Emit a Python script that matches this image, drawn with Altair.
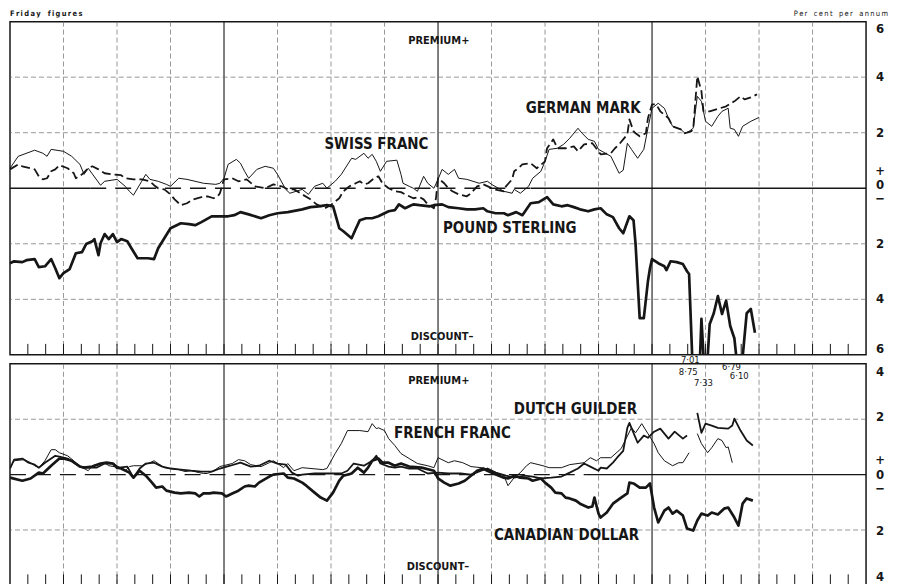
import altair as alt
import pandas as pd

# ---------------- data (week number from start of 1965, Friday figures; % per annum) ----------------
swiss_week = [0, 2, 6, 8, 9, 10, 13, 15, 17, 18, 19, 22, 23, 26, 28, 29, 30, 32, 33, 34, 36, 38, 39, 41, 43, 47,
              50, 51, 52, 53, 55, 56, 57, 58, 60, 62, 64, 65, 67, 68, 71, 72.5, 74, 76, 77, 79, 80.5, 83, 84, 86,
              87, 88, 89, 90, 91.5, 94, 95, 95.5, 97, 98, 99, 100.5, 101.5, 103, 104, 105, 106.5, 108, 109, 111,
              114, 116, 117, 120, 122, 122.5, 124, 126, 127, 129, 130, 131, 133, 134.5, 136, 138, 139, 140.5, 142,
              143, 146, 148, 149, 150, 151, 152.5, 154, 155, 156, 157.5, 159, 160, 161, 163, 164, 165, 166, 167,
              168, 169, 170.5, 172, 173, 174.5, 175, 176, 177, 178, 180, 182]
swiss_val = [0.72, 1.15, 1.37, 1.26, 1.15, 1.40, 1.33, 1.15, 0.86, 0.50, 0.72, 0.11, 0.25, 0.32, 0.07, -0.11, -0.25,
             0.25, 0.50, 0.32, 0.25, 0.14, 0.07, 0.36, 0.32, 0.18, 0.14, 0.18, 0.36, 0.86, 1.04, 0.90, 0.61, 0.36,
             0.68, 0.79, 0.72, 0.50, -0.04, -0.18, -0.04, -0.22, 0.07, 0.18, 0.00, 0.25, 0.50, 1.08, 1.04, 1.26,
             1.08, 1.22, 0.97, 0.61, 0.97, 1.01, 0.50, 0.18, 0.07, 0.00, -0.11, 0.43, 0.18, 0.00, 0.32, 0.68, 0.50,
             0.68, 0.36, 0.32, 0.18, 0.25, 0.14, -0.11, -0.18, -0.04, -0.18, 0.07, 0.36, 0.61, 0.97, 1.40, 1.44,
             1.58, 1.80, 2.16, 1.98, 1.76, 1.69, 1.40, 1.15, 0.54, 0.65, 1.62, 1.40, 1.08, 1.40, 2.16, 2.88, 3.06,
             2.88, 2.52, 2.23, 2.12, 1.98, 2.05, 2.16, 3.31, 3.13, 2.41, 2.23, 2.59, 2.77, 2.88, 2.16, 2.12, 1.87,
             2.23, 2.41, 2.55]

mark_week = [0, 2, 3, 5, 6, 7, 8, 9, 10, 11, 12, 14, 15.5, 16, 17.5, 19, 20, 21.5, 23, 25, 27, 28, 30, 32, 34, 35,
             36, 37.5, 39, 40, 41.5, 43, 44.5, 46.5, 48, 49.5, 50.5, 51, 52, 54, 55.5, 57.5, 59.5, 62, 64, 66, 67.5,
             69, 71, 73, 74.5, 76.5, 78, 80, 81, 82.5, 84, 85, 86, 87, 88.5, 89.5, 90.5, 92, 93.5, 95, 96, 98, 99.5,
             100.5, 101.5, 103, 103.5, 104, 105.5, 106.5, 107.5, 109, 111, 112, 113.5, 115, 116.5, 118, 120, 120.5,
             122, 122.5, 123.5, 124.5, 126.5, 128, 130, 130.5, 132, 133, 135, 137, 138, 139.5, 141.5, 143, 143.5,
             146, 147, 148, 149, 150, 150.5, 151.5, 152, 153, 154.5, 155, 156, 157, 158, 160, 161, 163, 164, 165.5,
             166, 167, 168, 168.5, 170, 172.5, 174, 176, 177.5, 178.5, 180, 181.5]
mark_val = [0.68, 0.86, 0.79, 0.72, 0.68, 0.43, 0.32, 0.36, 0.61, 0.68, 0.83, 0.72, 0.54, 0.36, 0.50, 0.72, 0.79,
            0.68, 0.54, 0.50, 0.47, 0.36, 0.32, 0.32, 0.25, 0.11, 0.00, -0.04, -0.22, -0.40, -0.61, -0.54, -0.40,
            -0.32, -0.29, -0.36, -0.29, -0.18, 0.32, 0.36, 0.25, 0.32, 0.07, 0.00, 0.14, 0.07, -0.04, -0.04, -0.22,
            -0.40, -0.58, -0.72, -0.60, -0.36, -0.11, 0.07, 0.18, 0.25, 0.14, 0.18, 0.36, 0.43, 0.18, 0.00, -0.11,
            -0.14, -0.22, -0.36, -0.32, -0.40, -0.58, -0.72, -0.36, 0.36, 0.18, 0.00, -0.11, -0.22, -0.29, -0.18,
            0.07, 0.14, 0.04, -0.05, -0.11, 0.07, 0.32, 0.61, 0.72, 0.86, 0.90, 0.72, 0.97, 1.44, 1.76, 1.44, 1.44,
            1.51, 1.33, 1.58, 1.62, 1.33, 1.22, 1.26, 1.44, 1.58, 1.76, 1.94, 2.48, 2.05, 1.98, 1.87, 1.98, 2.52,
            3.02, 3.02, 2.77, 2.52, 2.23, 2.12, 1.98, 2.05, 2.12, 4.03, 3.49, 2.77, 2.77, 2.88, 2.95, 3.13, 3.31,
            3.20, 3.27, 3.38]

sterling_week = [0, 1, 3, 4, 6, 7, 8.5, 10, 11, 12, 13, 14.5, 16, 17.5, 18.5, 20, 20.5, 21.5, 22, 23, 24, 25, 26,
                 27, 28.5, 29.5, 31, 32, 33.5, 35, 36, 37.5, 39, 41.5, 43.5, 45, 46.5, 49, 50.5, 53, 54.5, 56, 58,
                 61, 63, 65, 67.5, 71, 73, 75, 77, 78.5, 80, 81, 83, 84, 85, 86.5, 88, 89.5, 92, 93.5, 94.5, 96, 97,
                 98, 99.5, 102, 103, 105, 106.5, 109, 111, 113, 115, 116, 118, 120, 121, 123, 124.5, 126.5, 128.5,
                 130.5, 132, 134, 135.5, 137, 138.5, 140.5, 142, 143.5, 145, 146.5, 148, 149, 150.5, 151.5, 152, 153,
                 154, 155, 155.5, 156, 157.5, 159, 159.5, 160.5, 162, 163.5, 164.5, 165, 166, 167, 168, 169, 170,
                 171, 172, 173, 174, 175, 176, 177, 178, 179, 180, 181]
sterling_val = [-2.70, -2.63, -2.66, -2.59, -2.55, -2.84, -2.81, -2.55, -2.88, -3.24, -3.06, -2.91, -2.34, -2.30,
                -2.01, -1.91, -1.83, -2.41, -1.98, -1.65, -1.83, -1.65, -1.94, -1.83, -1.91, -2.16, -2.52, -2.52,
                -2.52, -2.55, -2.16, -1.80, -1.44, -1.26, -1.29, -1.33, -1.22, -1.01, -1.01, -1.01, -0.97, -0.86,
                -0.94, -1.08, -0.97, -0.90, -0.86, -0.76, -0.68, -0.65, -0.61, -0.65, -1.44, -1.55, -1.80, -1.47,
                -1.15, -1.08, -1.08, -1.01, -0.83, -0.79, -0.58, -0.72, -0.65, -0.58, -0.61, -0.65, -0.61, -0.58,
                -0.68, -0.72, -0.76, -0.76, -0.72, -0.83, -0.90, -0.90, -0.97, -0.86, -0.97, -0.54, -0.50, -0.32,
                -0.58, -0.65, -0.61, -0.68, -0.76, -0.83, -0.76, -0.72, -0.94, -1.04, -1.44, -1.62, -1.01, -1.15,
                -2.01, -4.68, -4.68, -3.35, -2.88, -2.55, -2.70, -2.81, -2.95, -2.63, -2.66, -2.73, -2.99, -3.09,
                -7.01, -8.75, -4.70, -7.33, -4.90, -4.50, -3.88, -4.53, -4.05, -4.96, -5.40, -6.79, -6.10, -4.50,
                -4.35, -5.20]

french_week = [0, 1, 3.5, 5, 6, 7, 8.5, 10, 11, 12, 14, 15.5, 17, 18, 19, 20, 22, 23, 24, 27, 28, 29, 30, 32, 34,
               35, 36, 37.5, 39, 41, 42.5, 44, 46, 47, 48, 49.5, 51, 54, 55.5, 57, 58.5, 61, 63, 64, 66.5, 67.5, 69,
               71, 76, 77, 79, 80.5, 82, 85, 87, 88, 89, 89.5, 91, 92, 93.5, 95, 97, 99, 101.5, 103, 104, 106.5,
               108, 110, 112, 114.5, 117, 120, 121, 122.5, 124, 125.5, 126.5, 129.5, 131, 134, 136, 139.5, 141,
               142.5, 143.5, 146, 148.5, 151, 152, 153.5, 155, 156.5, 157.5, 159, 161, 162.5, 163.5, 165,
               167, 168, 169.5, 170.5, 172, 173, 174, 174.5, 175.5]
french_val = [0.25, 0.50, 0.54, 0.43, 0.32, 0.25, 0.50, 0.90, 0.90, 0.79, 0.68, 0.50, 0.29, 0.22, 0.14, 0.32, 0.40,
              0.43, 0.32, 0.25, 0.14, 0.29, 0.32, 0.32, 0.43, 0.50, 0.40, 0.25, 0.22, 0.18, 0.11, 0.14, 0.07, 0.04,
              0.04, 0.14, 0.29, 0.40, 0.54, 0.50, 0.36, 0.29, 0.43, 0.50, 0.25, 0.40, 0.14, 0.25, 0.18, 0.22, 0.76,
              1.12, 1.59, 1.59, 1.55, 1.84, 1.66, 1.69, 1.59, 1.30, 1.05, 0.76, 0.58, 0.40, 0.32, 0.25, 0.61, 0.43,
              0.50, 0.43, 0.29, 0.25, 0.14, -0.04, -0.40, -0.11, 0.07, 0.32, 0.43, 0.32, 0.25, 0.25, 0.36, 0.43,
              0.61, 0.50, 0.61, 0.61, 0.94, 1.69, 1.51, 1.84, 1.48, 1.12, 0.79, 0.50, 0.32, 0.43, 0.43, 0.79,
              1.48, 1.12, 0.79, 0.97, 1.30, 1.23, 0.97, 1.00, 0.43]

dutch_week = [0, 1, 3, 4.5, 6, 7, 8.5, 11, 12, 14, 15.5, 17, 19, 21, 23, 25, 26.5, 28.5, 30, 31.5, 33, 35, 37, 39,
              41.5, 44, 46.5, 49, 51, 53.5, 56, 58.5, 60.5, 63, 65, 67, 68.5, 70, 71, 74, 77, 80.5, 82, 83.5, 86,
              88, 89, 90, 92, 93.5, 95, 97, 99, 101.5, 104, 106.5, 109.5, 112, 114.5, 116, 118, 120.5, 122.5, 125,
              127, 129, 131.5, 134, 136, 138, 139.5, 141, 143, 143.5, 145, 146.5, 147.5, 149, 150, 150.5, 151.5,
              152.5, 154, 155, 156.5, 158, 160, 161.5, 163.5, 164.5,
              167, 168, 169, 170.5, 172, 174.5, 175.5, 176, 177.5, 179, 180.5]
dutch_val = [0.22, 0.54, 0.58, 0.43, 0.36, 0.25, 0.43, 0.68, 0.65, 0.58, 0.43, 0.29, 0.25, 0.25, 0.40, 0.40, 0.25,
             0.29, -0.11, 0.22, 0.40, 0.43, 0.29, 0.22, 0.18, 0.14, 0.11, 0.11, 0.22, 0.32, 0.43, 0.29, 0.32, 0.50,
             0.40, 0.36, 0.07, -0.04, 0.00, 0.04, 0.04, 0.04, 0.14, 0.40, 0.32, 0.50, 0.68, 0.40, 0.29, 0.25, 0.29,
             0.22, 0.22, 0.04, 0.07, 0.04, 0.04, 0.00, 0.14, 0.22, 0.07, -0.04, -0.11, -0.04, -0.07, -0.14, -0.11,
             -0.07, 0.07, 0.22, 0.40, 0.29, 0.14, 0.25, 0.22, 0.43, 0.61, 0.86, 1.69, 1.87, 1.51, 1.15, 1.41, 1.33,
             1.55, 1.66, 1.30, 1.55, 1.30, 1.41,
             2.23, 1.51, 1.84, 1.77, 1.69, 1.66, 1.77, 2.02, 1.59, 1.23, 1.05]

canada_week = [0, 3, 5, 7, 8, 10, 12, 13, 15, 17, 18, 20, 22, 23.5, 25, 26, 27, 29, 30, 31.5, 33, 34.5, 35.5, 37,
               38, 40, 41.5, 43.5, 45, 46, 47, 48.5, 49.5, 51.5, 52.5, 54, 55.5, 57, 58, 59.5, 60.5, 63, 64, 66.5,
               67.5, 69, 71, 72, 74, 75.5, 77, 78.5, 80, 81, 83, 84.5, 86, 87, 88, 89.5, 90.5, 92, 93.5, 95, 97, 100,
               103, 104, 105.5, 107, 109, 110.5, 112, 113.5, 115, 116, 117.5, 120, 121, 122.5, 124, 126, 127, 129,
               130, 131.5, 132.5, 134, 135, 136, 137.5, 138.5, 140.5, 141.5, 142, 143, 143.5, 145, 146.5, 148.5,
               150, 150.5, 151.5, 153, 154.5, 155.5, 156.5, 157.5, 159, 160, 161, 162, 163.5, 164.5, 166, 167, 168,
               169.5, 170.5, 172, 173.5, 174.5, 176, 177, 178, 179, 180.5]
canada_val = [-0.11, -0.22, -0.14, 0.07, 0.04, 0.32, 0.58, 0.58, 0.50, 0.29, 0.25, 0.29, 0.40, 0.43, 0.40, 0.25,
              0.22, 0.07, -0.11, 0.14, -0.04, -0.29, -0.47, -0.43, -0.58, -0.65, -0.68, -0.65, -0.68, -0.79, -0.68,
              -0.68, -0.65, -0.68, -0.79, -0.68, -0.58, -0.43, -0.40, -0.43, -0.29, -0.07, 0.00, 0.04, -0.11, -0.14,
              -0.29, -0.40, -0.65, -0.83, -0.94, -0.65, -0.22, -0.04, 0.04, 0.25, 0.07, 0.25, 0.50, 0.58, 0.43, 0.43,
              0.32, 0.40, 0.29, 0.25, 0.14, -0.14, -0.29, -0.40, -0.32, -0.22, -0.04, 0.14, 0.22, 0.14, 0.04, -0.11,
              -0.14, -0.04, -0.11, -0.14, -0.22, -0.14, -0.29, -0.47, -0.65, -0.68, -0.83, -0.86, -0.94, -1.05,
              -1.19, -1.15, -0.83, -1.41, -1.55, -1.37, -1.05, -0.83, -0.68, -0.29, -0.32, -0.47, -0.47, -0.32,
              -1.19, -1.73, -1.30, -1.19, -1.41, -1.30, -1.48, -1.95, -2.02, -1.66, -1.41, -1.48, -1.37, -1.44,
              -1.23, -1.19, -1.55, -1.84, -1.05, -0.86, -0.94]

# off-scale sterling readings printed under the upper panel
offscale_text = ["7·01", "8·75", "7·33", "6·79", "6·10"]
offscale_week = [165.3, 164.8, 168.5, 175.3, 177.2]

top_grid = [4, 2, -2, -4]
bottom_grid = [2, -2]
top_tick_vals = [6, 4, 2, 0, -2, -4, -6]
top_tick_text = ["6", "4", "2", "0", "2", "4", "6"]
bottom_tick_vals = [4, 2, 0, -2, -4]
bottom_tick_text = ["4", "2", "0", "2", "4"]

# ---------------- styling ----------------
W, H1, H2 = 858, 334, 222
INK = "#161616"
GRID = "#6a6a6a"
FONT = "DejaVu Sans Condensed"
TS = "\u2009"     # thin space between letters of the small captions
WS = "\u00a0\u00a0\u00a0"  # non-collapsing gap between words

xs = alt.Scale(domain=[0, 208], nice=False, zero=False)
ys_top = alt.Scale(domain=[-6, 6], nice=False, zero=False)
ys_bot = alt.Scale(domain=[-4, 4], nice=False, zero=False)


def spaced(s):
    return WS.join(TS.join(word) for word in s.split(" "))


def series_df(weeks, vals, gap_after=None):
    seg = [0 if (gap_after is None or w <= gap_after) else 1 for w in weeks]
    return pd.DataFrame({"week": weeks, "value": vals, "seg": seg})


def line_layer(df, ys, width, dash=None):
    kw = dict(color=INK, strokeWidth=width, clip=True, strokeJoin="round")
    if dash:
        kw["strokeDash"] = dash
    return alt.Chart(df).mark_line(**kw).encode(
        x=alt.X("week:Q", scale=xs, axis=None),
        y=alt.Y("value:Q", scale=ys, axis=None),
        detail="seg:N",
    )


def frame_layers(ys, H, grid_vals, solid_zero, dashed_zero, tick_vals, tick_text, tick_dy, sign_dy):
    layers = []
    quarters = pd.DataFrame({"w": [13 * i for i in range(1, 16) if i % 4 != 0]})
    layers.append(alt.Chart(quarters).mark_rule(color=GRID, strokeWidth=0.7, strokeDash=[5, 3]).encode(
        x=alt.X("w:Q", scale=xs, axis=None)))
    years = pd.DataFrame({"w": [52, 104, 156]})
    layers.append(alt.Chart(years).mark_rule(color=INK, strokeWidth=1.1).encode(
        x=alt.X("w:Q", scale=xs, axis=None)))
    hg = pd.DataFrame({"v": grid_vals})
    layers.append(alt.Chart(hg).mark_rule(color=GRID, strokeWidth=0.7, strokeDash=[5, 3]).encode(
        y=alt.Y("v:Q", scale=ys, axis=None)))
    months = pd.DataFrame({"w": [m * 52 / 12 for m in range(1, 48)]})
    layers.append(alt.Chart(months).mark_rule(color=INK, strokeWidth=1).encode(
        x=alt.X("w:Q", scale=xs, axis=None), y=alt.value(H - 11), y2=alt.value(H)))
    zs = pd.DataFrame({"a": [s[0] for s in solid_zero], "b": [s[1] for s in solid_zero], "z": 0})
    layers.append(alt.Chart(zs).mark_rule(color=INK, strokeWidth=1.3).encode(
        x=alt.X("a:Q", scale=xs, axis=None), x2="b:Q", y=alt.Y("z:Q", scale=ys, axis=None)))
    zd = pd.DataFrame({"a": [s[0] for s in dashed_zero], "b": [s[1] for s in dashed_zero], "z": 0})
    layers.append(alt.Chart(zd).mark_rule(color=INK, strokeWidth=1.3, strokeDash=[16, 9]).encode(
        x=alt.X("a:Q", scale=xs, axis=None), x2="b:Q", y=alt.Y("z:Q", scale=ys, axis=None)))
    # right-hand scale labels, grouped by their small vertical nudge
    vals = tick_vals + [0, 0]
    texts = tick_text + ["+", "−"]
    dys = tick_dy + sign_dy
    for d in sorted(set(dys)):
        sub = pd.DataFrame({"v": [v for v, dd in zip(vals, dys) if dd == d],
                            "lab": [t for t, dd in zip(texts, dys) if dd == d]})
        layers.append(alt.Chart(sub).mark_text(font=FONT, fontWeight="bold", fontSize=13, color=INK,
                                               align="center", baseline="middle", dy=d).encode(
            x=alt.value(W + 14), y=alt.Y("v:Q", scale=ys, axis=None), text="lab:N"))
    return layers


def names_layer(ys, weeks, vals, texts, size, align):
    df = pd.DataFrame({"w": weeks, "v": vals, "t": texts})
    return alt.Chart(df).mark_text(font=FONT, fontWeight="bold", fontSize=size, color=INK,
                                   align=align, baseline="middle").encode(
        x=alt.X("w:Q", scale=xs, axis=None), y=alt.Y("v:Q", scale=ys, axis=None), text="t:N")


# ---------------- top panel ----------------
top_layers = frame_layers(ys_top, H1, top_grid, [(0, 19.5), (126.5, 208)], [(19.5, 126.5)],
                          top_tick_vals, top_tick_text, [7, 0, 0, -3, 0, 0, -6], [-17, 11])
top_layers += [
    line_layer(series_df(swiss_week, swiss_val), ys_top, 1.0),
    line_layer(series_df(mark_week, mark_val), ys_top, 1.8, dash=[9, 4]),
    line_layer(series_df(sterling_week, sterling_val), ys_top, 2.7),
    names_layer(ys_top, [76.4, 125.3, 105.2], [1.58, 2.88, -1.44],
                ["SWISS  FRANC", "GERMAN  MARK", "POUND  STERLING"], 15, "left"),
    names_layer(ys_top, [104.2, 105], [5.32, -5.36], ["PREMIUM+", "DISCOUNT–"], 11, "center"),
    alt.Chart().mark_text(font=FONT, fontSize=7.5, fontWeight="bold", color=INK, align="left",
                          baseline="middle").encode(x=alt.value(0), y=alt.value(-8),
                                                    text=alt.value(spaced("Friday figures"))),
    alt.Chart().mark_text(font=FONT, fontSize=7.5, color=INK, align="right",
                          baseline="middle").encode(x=alt.value(W + 22), y=alt.value(-8),
                                                    text=alt.value(spaced("Per cent per annum"))),
]
top = alt.layer(*top_layers).properties(width=W, height=H1)

# ---------------- bottom panel ----------------
bot_layers = frame_layers(ys_bot, H2, bottom_grid, [(140, 208)], [(0, 140)],
                          bottom_tick_vals, bottom_tick_text, [8, -2, 0, 1, -8], [-15, 14])
off_df = pd.DataFrame({"w": offscale_week, "t": offscale_text, "py": [-4, 8, 19, 3, 12]})
bot_layers += [
    line_layer(series_df(french_week, french_val, gap_after=166), ys_bot, 1.0),
    line_layer(series_df(dutch_week, dutch_val, gap_after=166), ys_bot, 1.8),
    line_layer(series_df(canada_week, canada_val), ys_bot, 2.7),
    names_layer(ys_bot, [122.4, 93.3, 117.6], [2.38, 1.51, -2.20],
                ["DUTCH  GUILDER", "FRENCH  FRANC", "CANADIAN  DOLLAR"], 15, "left"),
    names_layer(ys_bot, [104.2, 104], [3.39, -3.35], ["PREMIUM+", "DISCOUNT–"], 11, "center"),
    alt.Chart(off_df).mark_text(font="DejaVu Sans", fontSize=8.5, color=INK, align="center",
                                baseline="middle").encode(
        x=alt.X("w:Q", scale=xs, axis=None), y=alt.Y("py:Q", scale=None), text="t:N"),
]
bottom = alt.layer(*bot_layers).properties(width=W, height=H2)

chart = alt.vconcat(top, bottom, spacing=9, bounds="flush").properties(
    padding=0, background="white"
).configure_view(stroke=INK, strokeWidth=1.5)

chart.save("out.html", embed_options={"renderer": "svg", "actions": False})
